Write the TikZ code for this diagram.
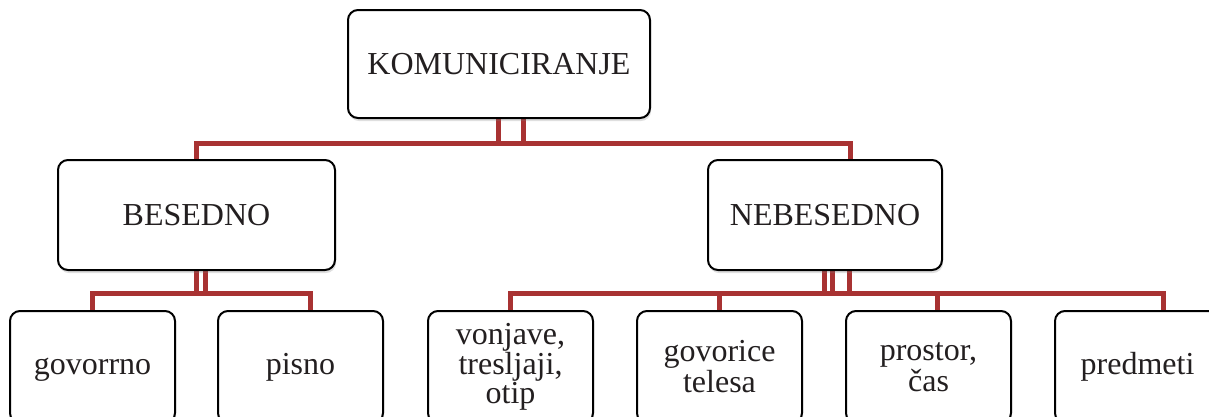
\documentclass[tikz,border=0pt]{standalone}
\usepackage{fontspec}
\setmainfont{Liberation Serif}
\usetikzlibrary{shadows,backgrounds}
\definecolor{conred}{RGB}{168,50,50}
\definecolor{txt}{RGB}{35,31,32}
\begin{document}
\begin{tikzpicture}[x=1pt,y=-1pt,
  box/.style={draw=black, line width=2pt, rounded corners=10pt, fill=white,
    inner sep=0pt, text=txt, align=center,
    font=\fontsize{32}{31}\selectfont,
    drop shadow={opacity=0.25, shadow xshift=1pt, shadow yshift=-3pt}},
  leaf/.style={box, minimum width=165, minimum height=112},
  oneline/.style={text height=23pt, text depth=9pt},
  conn/.style={draw=conred, line width=5pt, line join=miter, line cap=butt}]
\useasboundingbox (0,0) rectangle (1209,416);
\clip (0,0) rectangle (1209,416);

\node[box, minimum width=302, minimum height=108] (kom) at (499,64) {KOMUNICIRANJE};
\node[box, minimum width=277, minimum height=110] (bes) at (196.5,215) {BESEDNO};
\node[box, minimum width=234, minimum height=110] (neb) at (825,215) {NEBESEDNO};

\node[leaf, oneline] (gov) at (92.5,367) {govorrno};
\node[leaf, oneline] (pis) at (300.5,367) {pisno};
\node[leaf, font=\fontsize{32}{29}\selectfont] (von) at (510.5,367) {vonjave,\\tresljaji,\\otip};
\node[leaf] (gvt) at (719.5,367) {govorice\\telesa};
\node[leaf] (pro) at (928.5,367) {prostor,\\čas};
\node[leaf, oneline] (pre) at (1137.5,367) {predmeti};

\begin{scope}[on background layer]
\draw[conn] ([xshift=24pt]kom.south) -- ++(0,24) -| (bes.north);
\draw[conn] ([xshift=-1pt]kom.south) -- ++(0,24) -| ([xshift=25pt]neb.north);
\draw[conn] ([xshift=8.5pt]bes.south) -- ++(0,22) -| (gov.north);
\draw[conn] ([xshift=-0.5pt]bes.south) -- ++(0,22) -| ([xshift=9.5pt]pis.north);
\draw[conn] ([xshift=24pt]neb.south) -- ++(0,22) -| (von.north);
\draw[conn] ([xshift=7pt]neb.south) -- ++(0,22) -| (gvt.north);
\draw[conn] ([xshift=-1pt]neb.south) -- ++(0,22) -| ([xshift=8.5pt]pro.north);
\draw[conn] ([xshift=-1pt]neb.south) -- ++(0,22) -| ([xshift=25.5pt]pre.north);
\end{scope}
\end{tikzpicture}
\end{document}
